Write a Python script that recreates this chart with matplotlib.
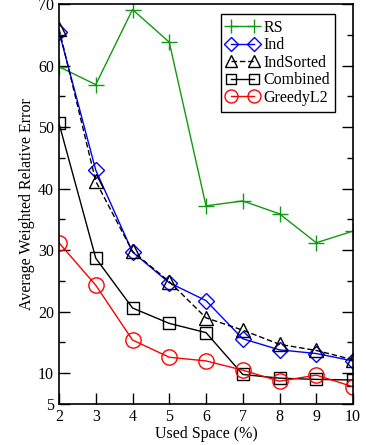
import matplotlib
matplotlib.use("Agg")
import matplotlib.pyplot as plt
from matplotlib.ticker import FixedLocator

plt.rcParams['font.family'] = ['Liberation Serif', 'DejaVu Serif']

# data
space = [2, 3, 4, 5, 6, 7, 8, 9, 10]
rs = [59.8, 56.9, 69.1, 63.8, 37.2, 38.0, 35.9, 31.2, 33.1]
ind = [65.5, 43.0, 29.7, 24.7, 21.8, 15.6, 13.8, 13.2, 12.0]
ind_sorted = [66.0, 41.2, 29.8, 24.9, 19.0, 17.0, 14.7, 13.7, 12.2]
combined = [50.6, 28.7, 20.6, 18.1, 16.6, 9.8, 9.2, 9.0, 8.9]
greedy = [31.2, 24.3, 15.4, 12.6, 12.0, 10.5, 8.7, 9.7, 7.8]

fig = plt.figure(figsize=(3.66, 4.45), dpi=100)
ax = fig.add_axes([59 / 366, 1 - 404 / 445, (353 - 59) / 366, (404 - 4) / 445])

mk = dict(markerfacecolor='none', linewidth=1.0, markeredgewidth=1.0)
ax.plot(space, rs, color='#119911', marker='+', markersize=12, label='RS', **mk)
ax.plot(space, ind, color='#0000ff', marker='D', markersize=8, label='Ind', **mk)
ax.plot(space, ind_sorted, color='black', linestyle='--', dashes=(4, 2), marker='^',
        markersize=10, label='IndSorted', **mk)
ax.plot(space, combined, color='black', marker='s', markersize=9, label='Combined', **mk)
ax.plot(space, greedy, color='#ff0000', marker='o', markersize=11, label='GreedyL2', **mk)

ax.set_xlim(2, 10)
ax.set_ylim(5, 70)
ax.set_xticks(space)
ax.yaxis.set_major_locator(FixedLocator([5, 10, 20, 30, 40, 50, 60, 70]))
ax.yaxis.set_minor_locator(FixedLocator([15, 25, 35, 45, 55, 65]))
ax.tick_params(axis='both', which='both', direction='in', labelsize=11.5,
               colors='black', width=1.0)
ax.tick_params(axis='y', which='major', length=8, right=True)
ax.tick_params(axis='y', which='minor', length=4, right=True)
ax.tick_params(axis='x', which='major', length=8, top=False)
for sp in ax.spines.values():
    sp.set_linewidth(1.2)

ax.set_xlabel('Used Space (%)', fontsize=11.5, labelpad=1)
ax.set_ylabel('Average Weighted Relative Error', fontsize=11.5, labelpad=2)

leg = ax.legend(loc='upper right', bbox_to_anchor=(0.94, 0.975), numpoints=2,
                fontsize=11.5, fancybox=False, framealpha=1, edgecolor='black',
                handlelength=2.0, handletextpad=0.3, labelspacing=0.1,
                borderpad=0.35, borderaxespad=0, markerscale=0.85)
leg.get_frame().set_linewidth(1.0)

fig.savefig('out.png', dpi=100)
